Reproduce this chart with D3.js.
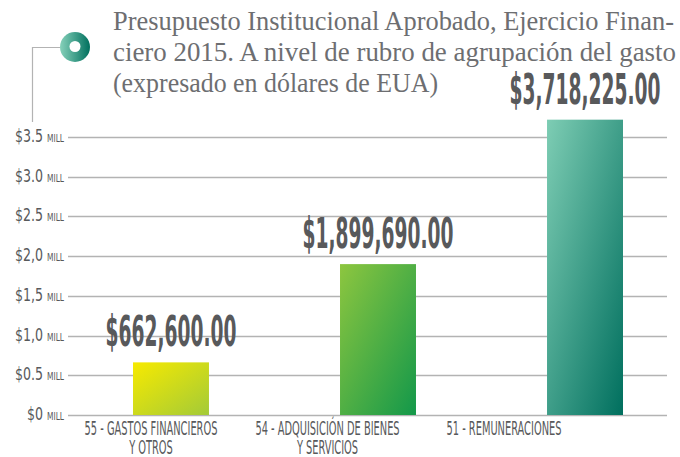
<!DOCTYPE html>
<html>
<head>
<meta charset="utf-8">
<script src="https://cdn.jsdelivr.net/npm/d3@7"></script>
<style>
  html, body { margin: 0; padding: 0; background: #fff; }
  svg { display: block; }
</style>
</head>
<body>
<svg id="chart" width="680" height="457"></svg>
<script>
// ---- data ----
const titleLines = [
  "Presupuesto Institucional Aprobado, Ejercicio Finan-",
  "ciero 2015. A nivel de rubro de agrupación del gasto",
  "(expresado en dólares de EUA)"
];
const categories = ["55", "54", "51"];
const categoryLabels = [
  ["55 - GASTOS FINANCIEROS", "Y OTROS"],
  ["54 - ADQUISICIÓN DE BIENES", "Y SERVICIOS"],
  ["51 - REMUNERACIONES"]
];
const values = [662600, 1899690, 3718225];
const valueLabels = ["$662,600.00", "$1,899,690.00", "$3,718,225.00"];
const yTicks = [0, 500000, 1000000, 1500000, 2000000, 2500000, 3000000, 3500000];
const yTickLabels = ["$0", "$0.5", "$1,0", "$1,5", "$2,0", "$2.5", "$3.0", "$3.5"];
const barColors = [["#f7ea00", "#a3ca38"], ["#8dc63f", "#13984a"], ["#7ecdb4", "#006f5e"]];

// ---- setup ----
const svg = d3.select("#chart");
const condensed = "'Liberation Sans Narrow', 'DejaVu Sans Condensed', 'Roboto Condensed', sans-serif";
const textDark = "#58595b";

const y = d3.scaleLinear().domain([0, 3500000]).range([415, 137]);
const x = d3.scaleBand().domain(categories).range([68, 688]).paddingInner(0.633).paddingOuter(0.314);
const xLab = d3.scalePoint().domain(categories).range([151, 504]);

const defs = svg.append("defs");
categories.forEach((c, i) => {
  const g = defs.append("linearGradient").attr("id", "grad" + i)
    .attr("x1", 0).attr("y1", 0).attr("x2", 1).attr("y2", 1);
  g.append("stop").attr("offset", "0%").attr("stop-color", barColors[i][0]);
  g.append("stop").attr("offset", "100%").attr("stop-color", barColors[i][1]);
});
const ig = defs.append("linearGradient").attr("id", "iconGrad")
  .attr("x1", 0).attr("y1", 0).attr("x2", 1).attr("y2", 0);
ig.append("stop").attr("offset", "0%").attr("stop-color", "#86d1ba");
ig.append("stop").attr("offset", "100%").attr("stop-color", "#00705e");

function squeeze(sel, refNode, target) {
  const k = target / refNode.getComputedTextLength();
  sel.attr("transform", function() {
    return `translate(${d3.select(this).attr("data-x")},${d3.select(this).attr("data-y")}) scale(${k},1)`;
  });
}

// ---- gridlines ----
svg.append("g").selectAll("line").data(yTicks).join("line")
  .attr("x1", 68).attr("x2", 667)
  .attr("y1", d => Math.round(y(d)) + 0.5).attr("y2", d => Math.round(y(d)) + 0.5)
  .attr("stroke", "#b3b3b3").attr("stroke-width", 1.4);

// ---- y labels ----
const yl = svg.append("g");
yTicks.forEach((d, i) => {
  const g = yl.append("text")
    .attr("data-x", 64).attr("data-y", y(d) + 5)
    .attr("text-anchor", "end")
    .attr("fill", textDark)
    .attr("font-family", condensed);
  g.append("tspan").attr("font-size", 18.5).text(yTickLabels[i] + " ");
  g.append("tspan").attr("font-size", 11).text("MILL");
});
squeeze(yl.selectAll("text"), yl.selectAll("text").nodes()[yTicks.length - 1], 49);

// ---- bars ----
svg.append("g").selectAll("rect").data(values).join("rect")
  .attr("x", (d, i) => x(categories[i]))
  .attr("width", x.bandwidth())
  .attr("y", d => y(d))
  .attr("height", d => y(0) - y(d))
  .attr("fill", (d, i) => `url(#grad${i})`);

// ---- value labels ----
const vl = svg.append("g").selectAll("text").data(values).join("text")
  .attr("data-x", (d, i) => x(categories[i]) + x.bandwidth() / 2)
  .attr("data-y", d => y(d) - 16)
  .attr("text-anchor", "middle")
  .attr("font-family", condensed)
  .attr("font-weight", "bold")
  .attr("font-size", 42)
  .attr("fill", textDark)
  .text((d, i) => valueLabels[i]);
squeeze(vl, vl.nodes()[2], 151);

// ---- x labels ----
const xl = svg.append("g");
categories.forEach((c, i) => {
  categoryLabels[i].forEach((line, j) => {
    xl.append("text")
      .attr("data-x", xLab(c)).attr("data-y", 435 + j * 19)
      .attr("text-anchor", "middle")
      .attr("font-family", condensed)
      .attr("font-size", 19.5)
      .attr("fill", textDark)
      .text(line);
  });
});
squeeze(xl.selectAll("text"), xl.selectAll("text").nodes()[0], 133);

// ---- icon and connector ----
svg.append("path")
  .attr("d", "M60,47.5 H32.5 V122")
  .attr("fill", "none").attr("stroke", "#b3b3b3").attr("stroke-width", 1.2);
svg.append("circle").attr("cx", 75).attr("cy", 47).attr("r", 15).attr("fill", "url(#iconGrad)");
svg.append("circle").attr("cx", 75).attr("cy", 46.5).attr("r", 5.5).attr("fill", "#fff");

// ---- title ----
const titleWidths = [561, 563, 325];
svg.append("g").selectAll("text").data(titleLines).join("text")
  .attr("x", 113)
  .attr("y", (d, i) => 30 + i * 31)
  .attr("font-family", "'Liberation Serif', 'DejaVu Serif', serif")
  .attr("font-size", 27)
  .attr("fill", "#6d6e71")
  .attr("textLength", (d, i) => titleWidths[i])
  .attr("lengthAdjust", "spacingAndGlyphs")
  .text(d => d);
</script>
</body>
</html>
